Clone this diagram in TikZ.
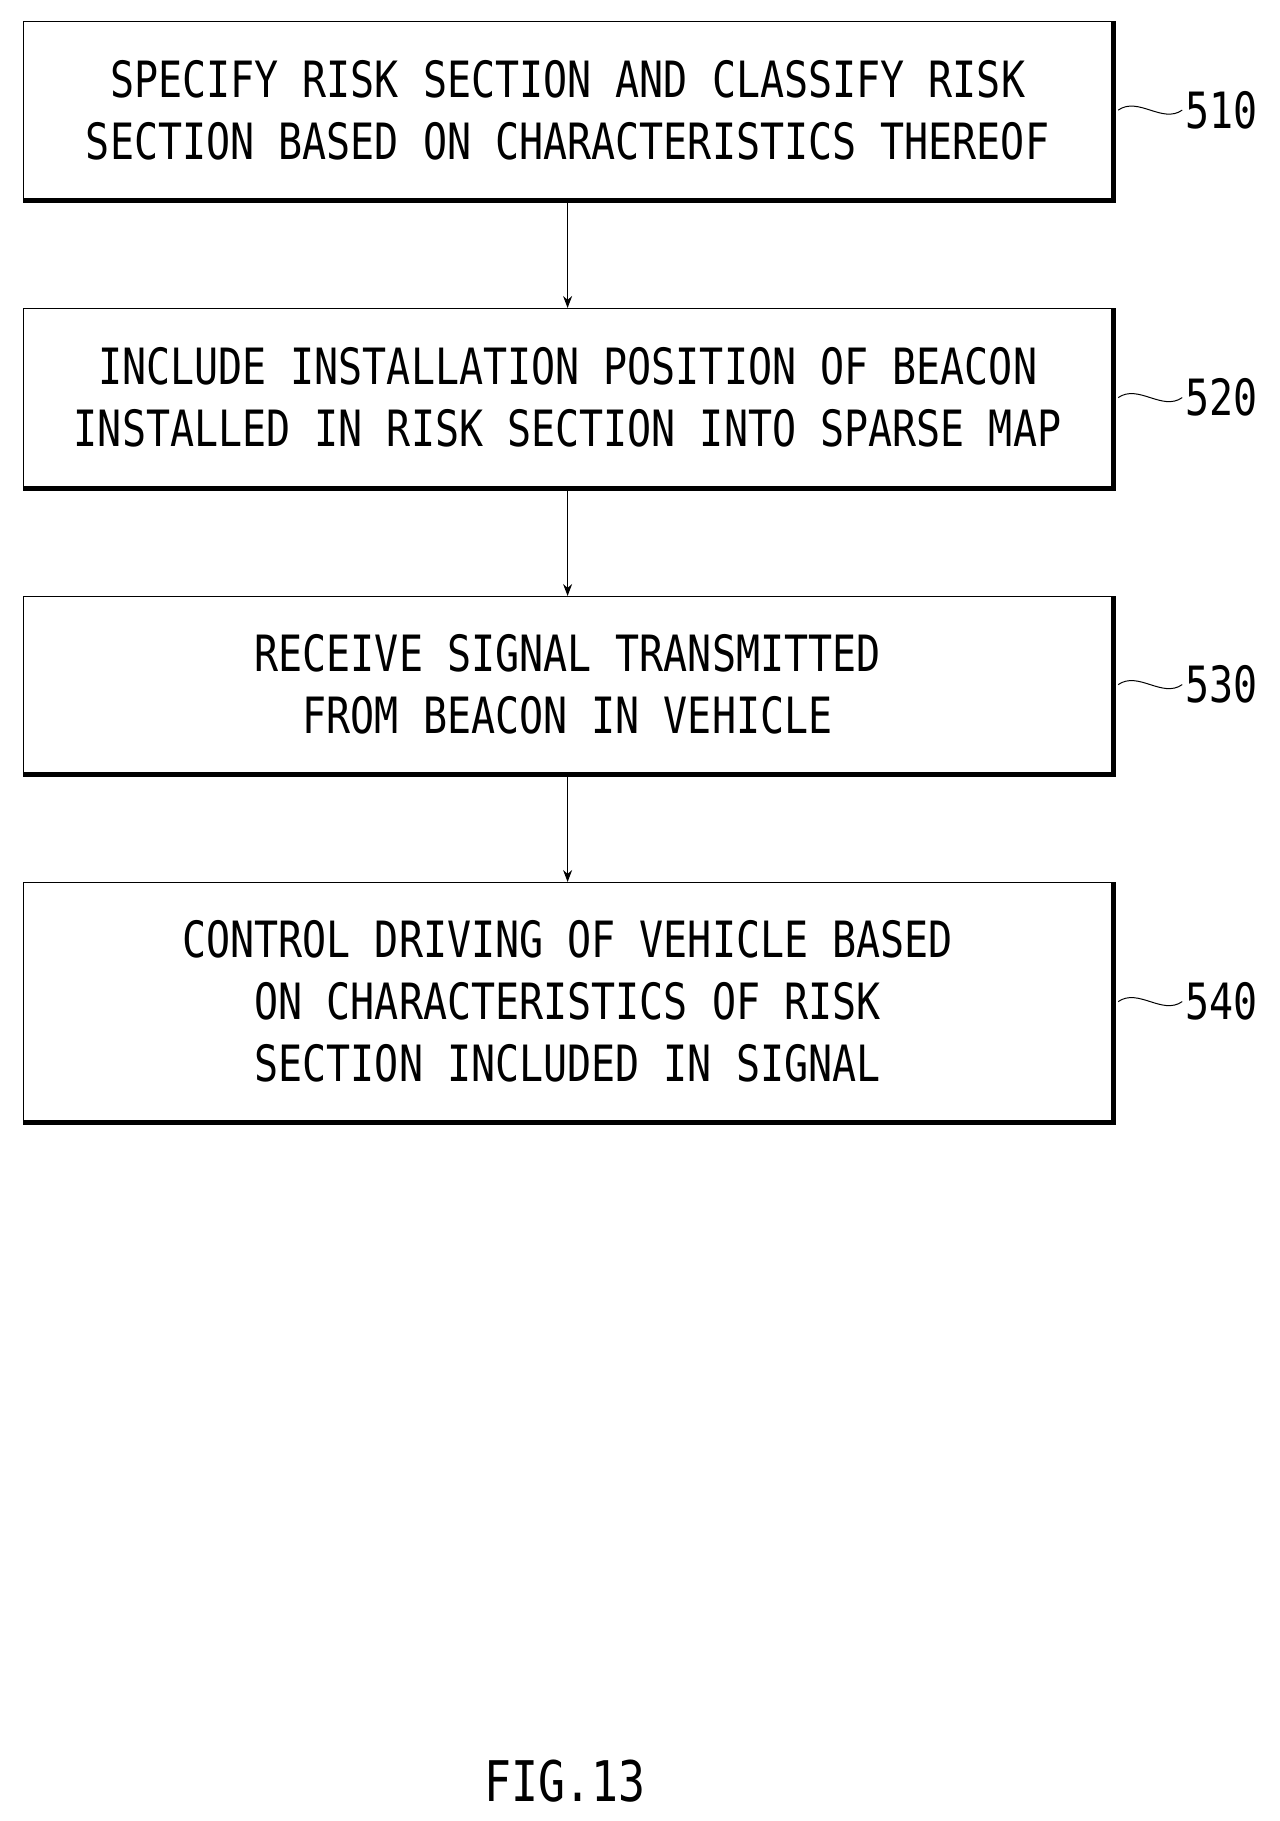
\documentclass[tikz,border=0pt]{standalone}
\usepackage{fontspec}
\setmainfont[FakeStretch=0.8]{DejaVu Sans Mono}
\usetikzlibrary{positioning,arrows.meta}
\tikzset{
  stepbox/.style={draw, line width=1.2pt, minimum width=1088pt, align=center,
    font=\fontsize{50}{62}\selectfont, anchor=north west, inner sep=0pt},
  tag/.style={font=\fontsize{50}{50}\selectfont, anchor=west},
  flow/.style={line width=1.2pt, -{Stealth[length=12pt,width=9pt]}}
}
\begin{document}
\begin{tikzpicture}[x=1pt,y=-1pt]
  \useasboundingbox (0,0) rectangle (1280,1821);
  \node[stepbox, minimum height=177pt] (A) at (23,21) {SPECIFY RISK SECTION AND CLASSIFY RISK\\SECTION BASED ON CHARACTERISTICS THEREOF};
  \node[stepbox, minimum height=178pt] (B) at (23,308) {INCLUDE INSTALLATION POSITION OF BEACON\\INSTALLED IN RISK SECTION INTO SPARSE MAP};
  \node[stepbox, minimum height=176pt] (C) at (23,596) {RECEIVE SIGNAL TRANSMITTED\\FROM BEACON IN VEHICLE};
  \node[stepbox, minimum height=238pt] (D) at (23,882) {CONTROL DRIVING OF VEHICLE BASED\\ON CHARACTERISTICS OF RISK\\SECTION INCLUDED IN SIGNAL};
  % thick shadow edges
  \foreach \b in {A,B,C,D}
    \draw[line width=4pt] ([xshift=2pt]\b.north east) -- ([xshift=2pt,yshift=-2pt]\b.south east) -- ([yshift=-2pt]\b.south west);
  \draw[flow] (A.south) -- (B.north);
  \draw[flow] (B.south) -- (C.north);
  \draw[flow] (C.south) -- (D.north);
  % reference numerals
  \foreach \b/\n in {A/510,B/520,C/530,D/540} {
    \node[tag] (\b t) at ([xshift=70pt]\b.east) {\n};
    \draw[line width=1pt] ([xshift=6pt]\b.east) .. controls +(20,-14) and +(-20,14) .. (\b t.west);
  }
  \node[font=\fontsize{56}{56}\selectfont] (fig) at (565,1781) {FIG.13};
\end{tikzpicture}
\end{document}
